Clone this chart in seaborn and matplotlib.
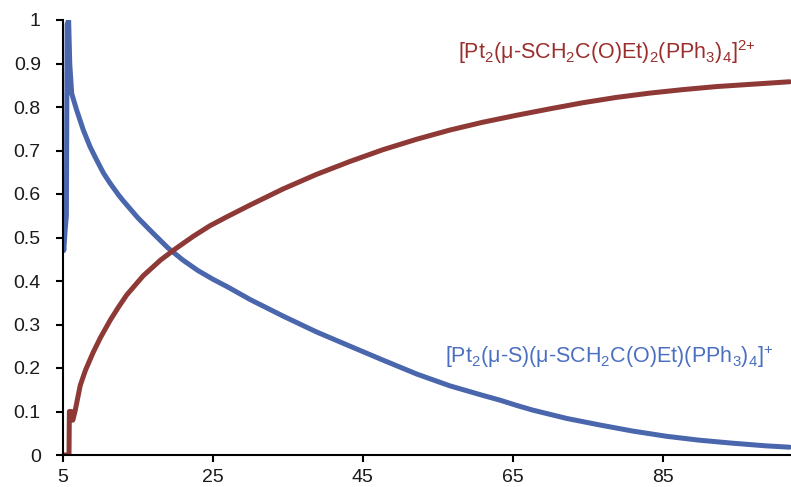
import numpy as np
import pandas as pd
import seaborn as sns
import matplotlib.pyplot as plt

# values
blue_x = [5.0, 5.1, 5.3, 5.45, 5.55, 5.75, 5.9, 6.16, 6.82, 7.71, 8.6, 9.49,
          10.4, 11.27, 12.4, 13.0, 15.0, 17.0, 19.0, 21.0, 23.0, 25.0, 27.0,
          30.0, 34.4, 38.8, 43.3, 47.7, 52.2, 56.6, 61.0, 63.3, 65.5, 67.7,
          72.2, 76.6, 81.0, 85.5, 89.9, 94.4, 98.8, 101.9]
blue_y = [0.50, 0.47, 0.52, 0.55, 0.99, 1.0, 0.90, 0.831, 0.793, 0.747, 0.709,
          0.678, 0.648, 0.625, 0.598, 0.585, 0.545, 0.51, 0.476, 0.448, 0.424,
          0.404, 0.386, 0.357, 0.319, 0.283, 0.250, 0.218, 0.186, 0.159,
          0.137, 0.126, 0.114, 0.103, 0.084, 0.069, 0.055, 0.043, 0.034,
          0.027, 0.021, 0.018]

red_x = [5.0, 5.8, 5.85, 6.1, 6.3, 6.6, 7.3, 8.0, 9.0, 10.0, 11.3, 12.4, 13.5,
         15.7, 18.0, 20.0, 22.4, 24.6, 26.8, 30.0, 34.4, 38.8, 43.3, 47.7,
         52.2, 56.6, 61.0, 65.5, 70.0, 74.4, 78.8, 83.3, 87.7, 92.2, 96.6,
         101.9]
red_y = [0.0, 0.0, 0.10, 0.10, 0.08, 0.10, 0.16, 0.195, 0.235, 0.27, 0.31,
         0.34, 0.368, 0.412, 0.448, 0.474, 0.503, 0.527, 0.547, 0.575, 0.612,
         0.645, 0.675, 0.702, 0.726, 0.747, 0.765, 0.781, 0.796, 0.81, 0.822,
         0.832, 0.840, 0.847, 0.852, 0.858]

x_ticks = [5, 25, 45, 65, 85]
y_ticks = [0, 0.1, 0.2, 0.3, 0.4, 0.5, 0.6, 0.7, 0.8, 0.9, 1]
y_labels = ["0", "0.1", "0.2", "0.3", "0.4", "0.5", "0.6", "0.7", "0.8", "0.9", "1"]

BLUE = "#4A66AD"
RED = "#8E3936"

sns.set_style("ticks")
plt.rcParams["font.family"] = ["Liberation Sans", "DejaVu Sans"]
plt.rcParams["mathtext.fontset"] = "custom"
plt.rcParams["mathtext.rm"] = "Liberation Sans"
plt.rcParams["mathtext.it"] = "Liberation Sans:italic"
plt.rcParams["mathtext.bf"] = "Liberation Sans:bold"

df_blue = pd.DataFrame({"t": blue_x, "frac": blue_y})
df_red = pd.DataFrame({"t": red_x, "frac": red_y})

fig = plt.figure(figsize=(7.91, 4.87), dpi=100)
ax = fig.add_axes([63 / 791, 32 / 487, 728 / 791, 435 / 487])

for df, col in [(df_blue, BLUE), (df_red, RED)]:
    sns.lineplot(data=df, x="t", y="frac", color=col, lw=3.6, ax=ax,
                 estimator=None, sort=False, solid_joinstyle="round")

ax.set_xlim(5, 102.1)
ax.set_ylim(0, 1)
ax.set_xticks(x_ticks)
ax.set_yticks(y_ticks)
ax.set_yticklabels(y_labels)
ax.set_xlabel("")
ax.set_ylabel("")
ax.tick_params(axis="both", labelsize=14, length=5, width=1.5, color="black",
               labelcolor="#1a1a1a", direction="out")
ax.tick_params(axis="y", pad=11)
ax.tick_params(axis="x", pad=5)
for side in ["top", "right"]:
    ax.spines[side].set_visible(False)
for side in ["left", "bottom"]:
    ax.spines[side].set_color("black")
    ax.spines[side].set_linewidth(1.5)

ax.text(57.7, 0.91, r"[Pt$_2$(μ-SCH$_2$C(O)Et)$_2$(PPh$_3$)$_4$]$^{2{+}}$",
        color="#9A2E2C", fontsize=15.5, va="baseline", ha="left")
ax.text(56.0, 0.211, r"[Pt$_2$(μ-S)(μ-SCH$_2$C(O)Et)(PPh$_3$)$_4$]$^{+}$",
        color="#4A6FC0", fontsize=15.5, va="baseline", ha="left")

fig.savefig("out.png", dpi=100)
